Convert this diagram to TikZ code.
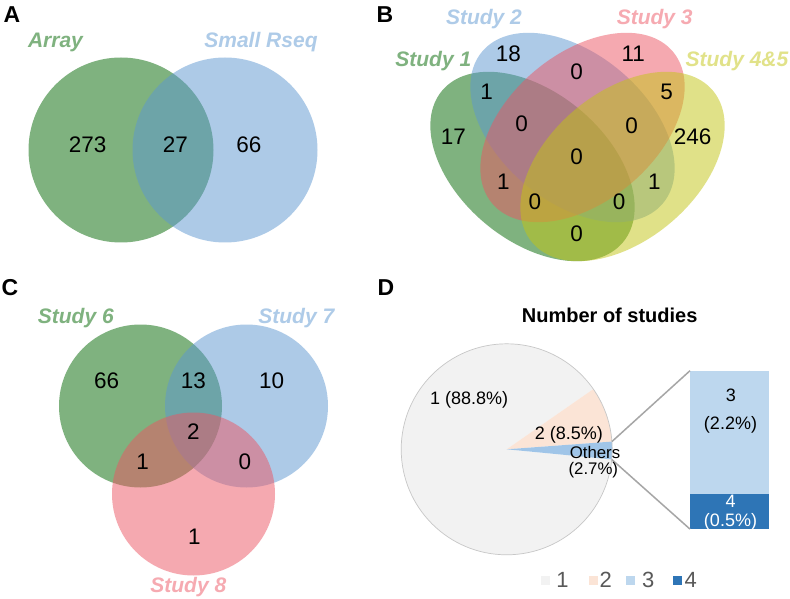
\documentclass[tikz,border=0pt]{standalone}
\usepackage{fontspec}
\setmainfont{Liberation Sans}
\begin{document}
\begin{tikzpicture}[x=1pt,y=1pt]
\definecolor{cg}{RGB}{0,102,0}
\definecolor{cb}{RGB}{93,151,209}
\definecolor{cr}{RGB}{236,85,99}
\definecolor{cy}{RGB}{195,197,19}
\definecolor{tg}{RGB}{127,178,127}
\definecolor{tb}{RGB}{174,203,232}
\definecolor{tr}{RGB}{246,170,177}
\definecolor{ty}{RGB}{225,226,137}
\definecolor{p1}{RGB}{242,242,242}
\definecolor{p2}{RGB}{251,228,214}
\definecolor{pw}{RGB}{160,197,232}
\definecolor{p3}{RGB}{189,215,238}
\definecolor{p4}{RGB}{46,117,182}
\definecolor{lgray}{RGB}{89,89,89}
\definecolor{conncol}{RGB}{166,166,166}
\tikzset{
  num/.style={font=\fontsize{22.5}{26}\selectfont, text height=16.1pt, text depth=0pt, inner sep=0pt},
  lab/.style={font=\fontsize{21}{25}\selectfont\bfseries\itshape, text height=15pt, text depth=0pt, inner sep=0pt},
  panel/.style={font=\fontsize{23}{27}\selectfont\bfseries, text height=16.5pt, text depth=0pt, inner sep=0pt},
  titl/.style={font=\fontsize{20}{24}\selectfont\bfseries, text height=14.3pt, text depth=0pt, inner sep=0pt},
  plab/.style={font=\fontsize{18}{21}\selectfont, text height=12.9pt, text depth=0pt, inner sep=0pt},
  olab/.style={font=\fontsize{16.8}{19}\selectfont, text height=12pt, text depth=0pt, inner sep=0pt},
  conn/.style={draw=conncol, line width=1.5pt},
  legsq/.style={minimum size=9.5pt, inner sep=0pt},
  legnum/.style={font=\fontsize{22}{26}\selectfont, text=lgray, text height=15.7pt, text depth=0pt, inner sep=0pt},
}
\useasboundingbox (0,0) rectangle (790,598);
\fill[white] (0,0) rectangle (790,598);

% ---------- Panel A ----------
\begin{scope}[fill opacity=0.5]
\fill[cg] (121,448) circle[radius=92.5];
\fill[cb] (225,448) circle[radius=92.5];
\end{scope}
\node[panel] (pA) at (12,583.5) {A};
\node[lab, text=tg] (lArray) at (55.5,557.5) {Array};
\node[lab, text=tb] (lRseq) at (261,557.5) {Small Rseq};
\node[num] (a1) at (87.7,453.8) {273};
\node[num] (a2) at (175.5,453.8) {27};
\node[num] (a3) at (248.8,453.8) {66};

% ---------- Panel B ----------
\begin{scope}[fill opacity=0.5]
\fill[cg, rotate around={-40:(532.5,431.5)}] (532.5,431.5) ellipse[x radius=118, y radius=74];
\fill[cb, rotate around={-40:(572.5,470.5)}] (572.5,470.5) ellipse[x radius=118, y radius=74];
\fill[cr, rotate around={40:(582.5,470.5)}] (582.5,470.5) ellipse[x radius=118, y radius=74];
\fill[cy, rotate around={40:(622.5,431.5)}] (622.5,431.5) ellipse[x radius=118, y radius=74];
\end{scope}
\node[panel] (pB) at (385,583.5) {B};
\node[lab, text=tg] (s1) at (433.3,538.8) {Study 1};
\node[lab, text=tb] (s2) at (484,580.5) {Study 2};
\node[lab, text=tr] (s3) at (654.7,580.5) {Study 3};
\node[lab, text=ty] (s45) at (737,538.8) {Study 4\&5};
\node[num] (b1) at (508.3,544.7) {18};
\node[num] (b2) at (633.3,544.7) {11};
\node[num] (b3) at (576.7,526.3) {0};
\node[num] (b4) at (486.7,506.3) {1};
\node[num] (b5) at (666.7,506.3) {5};
\node[num] (b6) at (453.3,461.3) {17};
\node[num] (b7) at (521.7,474.7) {0};
\node[num] (b8) at (631.7,473) {0};
\node[num] (b9) at (692.7,461.3) {246};
\node[num] (b10) at (576.7,441.3) {0};
\node[num] (b11) at (503.3,416.3) {1};
\node[num] (b12) at (654.3,416.3) {1};
\node[num] (b13) at (535,396.3) {0};
\node[num] (b14) at (619,396.3) {0};
\node[num] (b15) at (576.7,364.7) {0};

% ---------- Panel C ----------
\begin{scope}[fill opacity=0.5]
\fill[cg] (140.5,192) circle[radius=81.5];
\fill[cb] (246.5,192) circle[radius=81.5];
\fill[cr] (193.5,104) circle[radius=81.5];
\end{scope}
\node[panel] (pC) at (10,310.5) {C};
\node[lab, text=tg] (s6) at (75.8,282) {Study 6};
\node[lab, text=tb] (s7) at (296.3,282) {Study 7};
\node[lab, text=tr] (s8) at (188.3,13.5) {Study 8};
\node[num] (c1) at (106.7,218) {66};
\node[num] (c2) at (193.3,218) {13};
\node[num] (c3) at (271.7,218) {10};
\node[num] (c4) at (193.3,166.3) {2};
\node[num] (c5) at (142.7,136.3) {1};
\node[num] (c6) at (245,136.3) {0};
\node[num] (c7) at (194.3,61.3) {1};

% ---------- Panel D ----------
\node[panel] (pD) at (386,310.5) {D};
\node[titl] (title) at (609.7,283) {Number of studies};
\coordinate (pc) at (506.7,148.7);
\fill[p1] (pc) -- ++(34.8:105.5) arc[start angle=34.8, end angle=354.5, radius=105.5] -- cycle;
\fill[p2] (pc) -- ++(4.2:105.5) arc[start angle=4.2, end angle=34.8, radius=105.5] -- cycle;
\fill[pw] (pc) -- ++(-5.5:105.5) arc[start angle=-5.5, end angle=4.2, radius=105.5] -- cycle;
\draw[black!22, line width=0.7pt] (pc) circle[radius=105.5];
\path (pc) ++(4.2:105.5) coordinate (wt);
\path (pc) ++(-5.5:105.5) coordinate (wb);
\node[fill=p3, minimum width=79pt, minimum height=122.6pt, inner sep=0pt, anchor=north west] (bar3) at (690,227.3) {};
\node[fill=p4, minimum width=79pt, minimum height=35pt, inner sep=0pt, anchor=north west] (bar4) at (bar3.south west) {};
\draw[conn] (wt) -- (bar3.north west);
\draw[conn] (wb) -- (bar4.south west);
\node[plab] (d1) at (469.2,200.2) {1 (88.8\%)};
\node[plab] (d2) at (568.8,164.7) {2 (8.5\%)};
\node[olab] (d3) at (595,145.5) {Others};
\node[olab] (d4) at (593.3,129.2) {(2.7\%)};
\node[plab] (d5) at (730.8,202.5) {3};
\node[plab] (d6) at (730.5,175) {(2.2\%)};
\node[plab, text=white] (d7) at (730.5,97.2) {4};
\node[plab, text=white] (d8) at (730.5,77.5) {(0.5\%)};
% legend
\node[legsq, fill=p1] (q1) at (545.3,17.5) {};
\node[legnum] (n1) at (562.5,18.8) {1};
\node[legsq, fill=p2] (q2) at (593.3,17.5) {};
\node[legnum] (n2) at (605.8,18.8) {2};
\node[legsq, fill=p3] (q3) at (630.3,17.5) {};
\node[legnum] (n3) at (648.3,18.8) {3};
\node[legsq, fill=p4] (q4) at (677.3,17.5) {};
\node[legnum] (n4) at (690.8,18.8) {4};
\end{tikzpicture}
\end{document}
